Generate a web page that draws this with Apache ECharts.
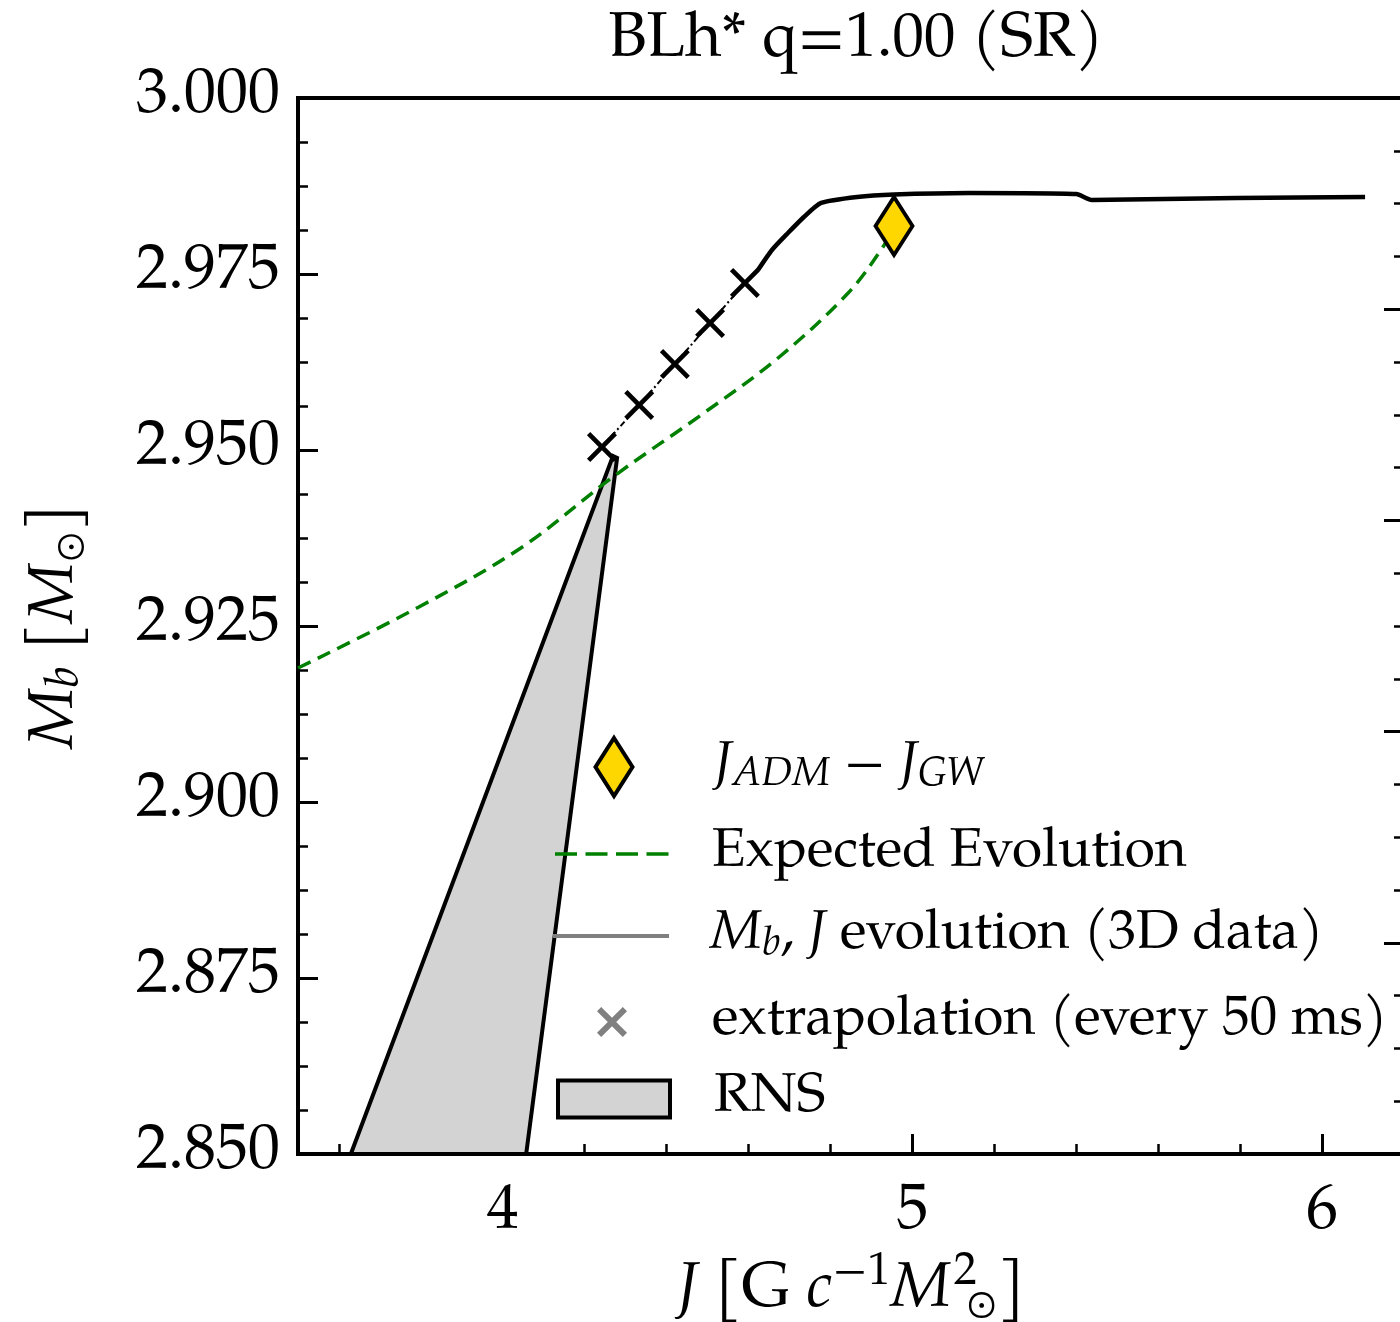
<!DOCTYPE html>
<html><head><meta charset="utf-8">
<script src="https://cdn.jsdelivr.net/npm/echarts@6/dist/echarts.min.js"></script>
<style>html,body{margin:0;padding:0;background:#fff}#c{width:1400px;height:1322px}</style>
</head><body><div id="c"></div>
<script>
// ---------- data ----------
const xMajorTicks = [4, 5, 6];
const xMinorTicks = [3.6, 3.8, 4.2, 4.4, 4.6, 4.8, 5.2, 5.4, 5.6, 5.8];

// M_b, J evolution (3D data)
const evoJ = [4.623, 4.657, 4.696, 4.735, 4.777, 4.865, 4.955, 5.138, 5.400, 5.438, 5.792, 6.105];
const evoM = [2.97557, 2.97841, 2.98082, 2.98310, 2.98509, 2.98594, 2.98629, 2.98651, 2.98636, 2.98551, 2.98580, 2.98594];

// extrapolation (every 50 ms)
const extrapJ = [4.242, 4.333, 4.420, 4.506, 4.591];
const extrapM = [2.95043, 2.95639, 2.96222, 2.96804, 2.97372];

// Expected evolution
const expJ = [3.500, 3.795, 4.044, 4.272, 4.484, 4.672, 4.843, 4.928, 4.955];
const expM = [2.91903, 2.92770, 2.93608, 2.94631, 2.95497, 2.96307, 2.97230, 2.97884, 2.98182];

// J_ADM - J_GW
const jdiffJ = [4.955];
const jdiffM = [2.98182];

// RNS region
const rnsJ = [3.629, 4.269, 4.279, 4.057];
const rnsM = [2.85, 2.94915, 2.94886, 2.85];

// ---------- style ----------
const FONT = "'TeX Gyre Pagella','URW Palladio L','P052','Palatino Linotype',Palatino,'Liberation Serif','DejaVu Serif',serif";

function rich(fs) {
  return {
    i: {fontFamily: FONT, fontStyle: 'italic', fontSize: fs, color: '#000'},
    r: {fontFamily: FONT, fontSize: fs, color: '#000'},
    sub: {fontFamily: FONT, fontStyle: 'italic', fontSize: Math.round(fs * 0.72), padding: [Math.round(fs * 0.3), 0, 0, 0], color: '#000'},
    subr: {fontFamily: FONT, fontSize: Math.round(fs * 0.62), padding: [Math.round(fs * 0.45), 0, 0, 0], color: '#000'},
    sup: {fontFamily: FONT, fontSize: Math.round(fs * 0.72), padding: [0, 0, Math.round(fs * 0.55), 0], color: '#000'},
    sup0: {fontFamily: FONT, fontSize: Math.round(fs * 0.72), padding: [0, 0, Math.round(fs * 0.55), 14], width: 1, align: 'left', color: '#000'},
    pad: {width: 39}
  };
}

const legendText = {
  'jdiff': '{i|J}{sub|ADM}{r| − }{i|J}{sub|GW}',
  'expected': 'Expected Evolution',
  'evolution': '{i|M}{sub|b}, {i|J} evolution (3D data)',
  'extrap': 'extrapolation (every 50 ms)',
  'rns': '{pad|}RNS'
};

const LFS = 55;
function mkLegend(name, left, top, w, h, icon, itemStyle) {
  return {
    show: true, selectedMode: false, orient: 'vertical', padding: 0,
    left: left, top: top, itemWidth: w, itemHeight: h,
    data: [{name: name, icon: icon, itemStyle: itemStyle}],
    formatter: n => legendText[n],
    textStyle: {fontFamily: FONT, fontSize: LFS, color: '#000', lineHeight: 56, rich: rich(LFS)}
  };
}

const dashPath = 'path://M0,0h0.05v0.05h-0.05z M151.95,55.95h0.05v0.05h-0.05z ' +
  'M0,26.2h22v3.6h-22z M30.5,26.2h22v3.6h-22z M61,26.2h22v3.6h-22z M91.5,26.2h22v3.6h-22z';
const greyLinePath = 'path://M0,0h0.05v0.05h-0.05z M151.95,55.95h0.05v0.05h-0.05z M0,26h116v4h-116z';
const greyXPath = 'path://M0,0h0.05v0.05h-0.05z M189.95,55.95h0.05v0.05h-0.05z ' +
  'M80,17.2L84.2,13L95,23.8L105.8,13L110,17.2L99.2,28L110,38.8L105.8,43L95,32.2L84.2,43L80,38.8L90.8,28Z';
const diamondPath = 'path://M18.5,0L37,29L18.5,58L0,29Z';
const crossPath = 'path://M0,11L11,0L50,39L89,0L100,11L61,50L100,89L89,100L50,61L11,100L0,89L39,50Z';

const chart = echarts.init(document.getElementById('c'), null, {renderer: 'canvas'});

const option = {
  animation: false,
  backgroundColor: '#fff',
  title: {
    text: 'BLh* q=1.00 (SR)', left: 851, top: 6, textAlign: 'center',
    textStyle: {fontFamily: FONT, fontSize: 63, fontWeight: 'normal', color: '#000'}
  },
  grid: {left: 298, top: 98, width: 1106, height: 1056, outerBoundsMode: 'none', containLabel: false,
         show: true, borderColor: '#000', borderWidth: 4, backgroundColor: 'transparent'},
  xAxis: [
    {
      type: 'value', min: 3.5, max: 6.2, position: 'bottom',
      axisLine: {show: false},
      splitLine: {show: false},
      axisTick: {show: true, inside: true, length: 20, customValues: xMajorTicks, lineStyle: {color: '#000', width: 3}},
      axisLabel: {show: true, customValues: xMajorTicks, margin: 28, fontFamily: FONT, fontSize: 64, color: '#000', formatter: v => String(v)},
      name: '{i|J} [G {i|c}{sup|−1}{i|M}{sup0|2}{subr|⊙}]',
      nameLocation: 'middle', nameGap: 84,
      nameTextStyle: {fontFamily: FONT, fontSize: 64, color: '#000', rich: rich(64)}
    },
    {
      type: 'value', min: 3.5, max: 6.2, position: 'bottom', gridIndex: 0,
      axisLine: {show: false}, splitLine: {show: false}, axisLabel: {show: false},
      axisTick: {show: true, inside: true, length: 10, customValues: xMinorTicks, lineStyle: {color: '#000', width: 2.5}}
    }
  ],
  yAxis: [
    {
      type: 'value', min: 2.85, max: 3.0, interval: 0.025, position: 'left',
      axisLine: {show: false}, splitLine: {show: false},
      axisTick: {show: true, inside: true, length: 20, lineStyle: {color: '#000', width: 3}},
      minorTick: {show: true, splitNumber: 4, length: 10, lineStyle: {color: '#000', width: 2.5}},
      axisLabel: {margin: 18, fontFamily: FONT, fontSize: 64, color: '#000', formatter: v => v.toFixed(3), showMinLabel: true, showMaxLabel: true},
      name: '{i|M}{sub|b} [{i|M}{subr|⊙}]',
      nameLocation: 'middle', nameGap: 206, nameRotate: 90,
      nameTextStyle: {fontFamily: FONT, fontSize: 64, color: '#000', rich: rich(64)}
    },
    {
      type: 'value', min: 0, max: 5, interval: 1, position: 'right',
      axisLine: {show: false}, splitLine: {show: false}, axisLabel: {show: false},
      axisTick: {show: true, inside: true, length: 20, lineStyle: {color: '#000', width: 3}},
      minorTick: {show: true, splitNumber: 4, length: 10, lineStyle: {color: '#000', width: 2.5}}
    }
  ],
  legend: [
    mkLegend('jdiff', 593.5, 736, 190, 58, diamondPath, {color: '#FFD700', borderColor: '#000', borderWidth: 4}),
    mkLegend('expected', 555, 826, 152, 56, dashPath, {color: '#008000', borderWidth: 0}),
    mkLegend('evolution', 553, 908, 152, 56, greyLinePath, {color: '#808080', borderWidth: 0}),
    mkLegend('extrap', 517, 994, 190, 56, greyXPath, {color: '#808080', borderWidth: 0}),
    mkLegend('rns', 556, 1071, 112, 37, 'rect', {color: '#d3d3d3', borderColor: '#000', borderWidth: 4})
  ],
  series: [
    {
      name: 'rns', type: 'custom', xAxisIndex: 0, yAxisIndex: 0, z: 1,
      itemStyle: {color: '#d3d3d3', borderColor: '#000', borderWidth: 4},
      data: rnsJ.map((j, i) => [j, rnsM[i]]),
      renderItem: function (params, api) {
        if (params.dataIndex !== 0) return null;
        const pts = rnsJ.map((j, i) => api.coord([j, rnsM[i]]));
        return {type: 'polygon', shape: {points: pts}, style: {fill: '#d3d3d3', stroke: '#000', lineWidth: 4, lineJoin: 'miter'}};
      }
    },
    {
      name: 'expected', type: 'line', z: 2, symbol: 'none', smooth: 0.35,
      lineStyle: {color: '#008000', width: 3.5, type: [14, 8]},
      itemStyle: {color: '#008000'},
      data: expJ.map((j, i) => [j, expM[i]])
    },
    {
      name: 'evolution', type: 'line', z: 3, symbol: 'none', smooth: 0.2,
      lineStyle: {color: '#000', width: 4.5},
      itemStyle: {color: '#000'},
      data: evoJ.map((j, i) => [j, evoM[i]])
    },
    {
      name: 'extrapLine', type: 'line', z: 3, symbol: 'none',
      lineStyle: {color: '#000', width: 2, type: [6, 3, 2, 3]},
      data: extrapJ.map((j, i) => [j, extrapM[i]]).concat([[evoJ[0], evoM[0]]])
    },
    {
      name: 'extrap', type: 'scatter', z: 4, symbol: crossPath, symbolSize: 30,
      itemStyle: {color: '#000', borderWidth: 0, opacity: 1},
      data: extrapJ.map((j, i) => [j, extrapM[i]])
    },
    {
      name: 'jdiff', type: 'scatter', z: 5, symbol: 'diamond', symbolSize: [37, 58],
      itemStyle: {color: '#FFD700', borderColor: '#000', borderWidth: 4, opacity: 1},
      data: jdiffJ.map((j, i) => [j, jdiffM[i]])
    }
  ]
};
chart.setOption(option);
</script>
</body></html>
